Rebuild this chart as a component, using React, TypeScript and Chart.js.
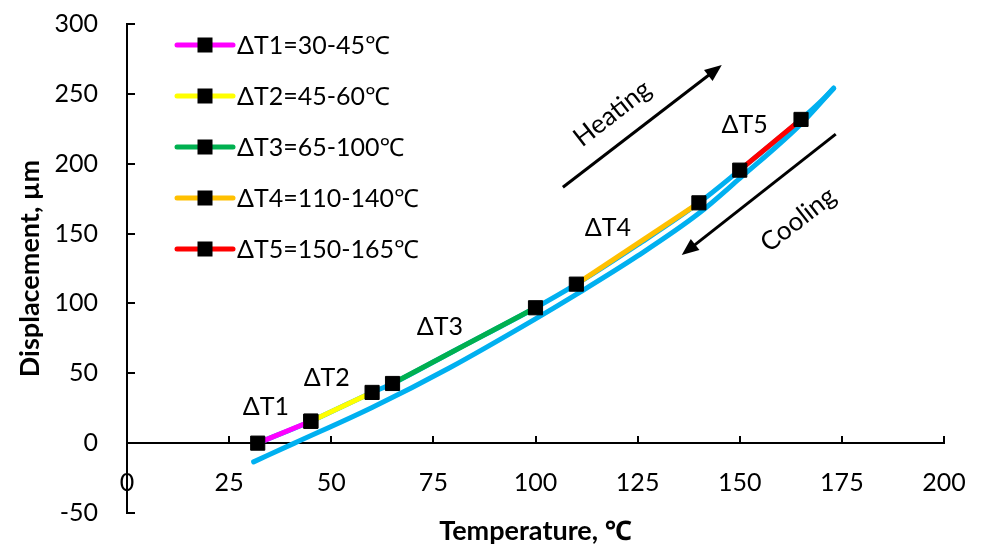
import React, { useEffect, useRef } from "react";
import { Chart, registerables } from "chart.js";

Chart.register(...registerables);

const FONT = "Lato, 'Noto Sans', sans-serif";

// Coloured ΔT segments on the heating curve
const segLabels = ["ΔT1=30-45℃", "ΔT2=45-60℃", "ΔT3=65-100℃", "ΔT4=110-140℃", "ΔT5=150-165℃"];
const segColors = ["#FF00FF", "#FFFF00", "#00B050", "#FFC000", "#FF0000"];
const segStartT = [32, 45, 65, 110, 150];
const segEndT = [45, 60, 100, 140, 165];
const segStartD = [0, 15.7, 42.7, 113.8, 195.4];
const segEndD = [15.7, 36.3, 96.9, 172, 231.7];

// Blue heating branch
const heatT = [32, 45, 60, 65, 80, 100, 110, 125, 140, 150, 165, 170, 173];
const heatD = [0, 15.7, 36.3, 42.7, 66, 96.9, 113.8, 142, 172, 195.4, 231.7, 245, 254];

// Blue cooling branch
const coolT = [31, 41, 60, 79, 100, 110, 125, 140, 150, 165, 173];
const coolD = [-13.4, 0, 25.5, 54, 89, 106.5, 134, 164.5, 189.5, 228.5, 254];

// Axes
const xMin = 0, xMax = 200, xStep = 25;
const yMin = -50, yMax = 300, yStep = 50;
const xTitle = "Temperature, ℃";
const yTitle = "Displacement, µm";

// Annotations
const annoLabels = ["ΔT1", "ΔT2", "ΔT3", "ΔT4", "ΔT5"];
const annoT = [34, 48.9, 76.6, 117.7, 151.2];
const annoD = [25.8, 46.5, 83, 153.9, 227.6];
const heatArrowT = [106.7, 145.6];
const heatArrowD = [183.2, 270.6];
const coolArrowT = [173.5, 135.8];
const coolArrowD = [221.2, 134.6];
const heatTextPos = [118.8, 236];
const coolTextPos = [164.3, 160];

const pts = (t: number[], d: number[]) => t.map((v, i) => ({ x: v, y: d[i] }));

const overlayPlugin = {
  id: "overlay",
  afterDatasetsDraw(chart: any) {
    const { ctx, chartArea, scales } = chart;
    const xs = scales.x;
    const ys = scales.y;
    const px = (v: number) => xs.getPixelForValue(v);
    const py = (v: number) => ys.getPixelForValue(v);
    ctx.save();
    ctx.fillStyle = "#000";
    ctx.font = `25px ${FONT}`;
    ctx.textAlign = "center";
    ctx.textBaseline = "middle";
    annoLabels.forEach((t, i) => ctx.fillText(t, px(annoT[i]), py(annoD[i])));

    const arrow = (t: number[], d: number[]) => {
      const x0 = px(t[0]), y0 = py(d[0]), x1 = px(t[1]), y1 = py(d[1]);
      const ang = Math.atan2(y1 - y0, x1 - x0);
      const hl = 17, hw = 7;
      const bx = x1 - hl * Math.cos(ang), by = y1 - hl * Math.sin(ang);
      ctx.strokeStyle = "#000";
      ctx.lineWidth = 3;
      ctx.beginPath();
      ctx.moveTo(x0, y0);
      ctx.lineTo(bx + 2 * Math.cos(ang), by + 2 * Math.sin(ang));
      ctx.stroke();
      ctx.beginPath();
      ctx.moveTo(x1, y1);
      ctx.lineTo(bx + hw * Math.sin(ang), by - hw * Math.cos(ang));
      ctx.lineTo(bx - hw * Math.sin(ang), by + hw * Math.cos(ang));
      ctx.closePath();
      ctx.fill();
    };
    arrow(heatArrowT, heatArrowD);
    arrow(coolArrowT, coolArrowD);

    const rotText = (txt: string, pos: number[], deg: number) => {
      ctx.save();
      ctx.translate(px(pos[0]), py(pos[1]));
      ctx.rotate((deg * Math.PI) / 180);
      ctx.fillText(txt, 0, 0);
      ctx.restore();
    };
    ctx.font = `26px ${FONT}`;
    rotText("Heating", heatTextPos, -38);
    rotText("Cooling", coolTextPos, -38);

    // legend
    ctx.font = `25px ${FONT}`;
    ctx.textAlign = "left";
    segLabels.forEach((lab, i) => {
      const y = chartArea.top + 21 + i * 51;
      const lx0 = chartArea.left + 50;
      const lx1 = chartArea.left + 106;
      ctx.strokeStyle = segColors[i];
      ctx.lineWidth = 5;
      ctx.lineCap = "round";
      ctx.beginPath();
      ctx.moveTo(lx0, y);
      ctx.lineTo(lx1, y);
      ctx.stroke();
      ctx.fillStyle = "#000";
      ctx.fillRect(lx0 + 28 - 7.5, y - 7.5, 15, 15);
      ctx.fillText(lab, chartArea.left + 110, y + 1);
    });
    ctx.restore();
  },
};

export default function App() {
  const ref = useRef<HTMLCanvasElement>(null);
  useEffect(() => {
    if (!ref.current) return;
    Chart.defaults.font.family = FONT;
    Chart.defaults.color = "#000";
    const segSets = segLabels.map((lab, i) => ({
      label: lab,
      data: pts([segStartT[i], segEndT[i]], [segStartD[i], segEndD[i]]),
      borderColor: segColors[i],
      backgroundColor: "#000",
      borderWidth: 5,
      pointStyle: "rect",
      pointRadius: 10,
      pointBorderWidth: 1,
      pointBorderColor: "#000",
      pointBackgroundColor: "#000",
      showLine: true,
    }));
    const blue = (lab: string, t: number[], d: number[]) => ({
      label: lab,
      data: pts(t, d),
      borderColor: "#00B0F0",
      backgroundColor: "#00B0F0",
      borderWidth: 5,
      pointRadius: 0,
      showLine: true,
      cubicInterpolationMode: "monotone",
      borderCapStyle: "round",
      borderJoinStyle: "round",
    });
    const chart = new Chart(ref.current, {
      type: "scatter",
      data: {
        datasets: [...segSets, blue("Heating", heatT, heatD), blue("Cooling", coolT, coolD)] as any,
      },
      plugins: [overlayPlugin],
      options: {
        animation: false,
        responsive: true,
        maintainAspectRatio: false,
        layout: { padding: { top: 24, right: 39, left: 0, bottom: 0 } },
        plugins: { legend: { display: false }, tooltip: { enabled: false } },
        scales: {
          x: {
            type: "linear",
            position: { y: 0 } as any,
            min: xMin,
            max: xMax,
            ticks: { stepSize: xStep, padding: 33, font: { size: 25, family: FONT }, color: "#000", maxRotation: 0 },
            grid: { drawOnChartArea: false, drawTicks: true, tickLength: -8, color: "#000", lineWidth: 2 },
            border: { display: true, color: "#000", width: 2 },
            afterFit: (s: any) => { s.height = 0; s.paddingLeft = 0; s.paddingRight = 0; s.paddingTop = 0; s.paddingBottom = 0; },
          },
          x2: {
            type: "linear",
            position: "bottom",
            ticks: { display: false },
            grid: { display: false, drawTicks: false },
            border: { display: false },
            title: { display: true, text: xTitle, font: { size: 27, weight: "bold", family: FONT }, color: "#000", padding: { top: 0, bottom: 4 } },
            afterFit: (s: any) => { s.height = 38; },
          },
          y: {
            type: "linear",
            position: "left",
            min: yMin,
            max: yMax,
            ticks: { stepSize: yStep, padding: 37, font: { size: 25, family: FONT }, color: "#000" },
            grid: { drawOnChartArea: false, drawTicks: true, tickLength: -8, color: "#000", lineWidth: 2 },
            border: { display: true, color: "#000", width: 2 },
            title: { display: true, text: yTitle, font: { size: 27, weight: "bold", family: FONT }, color: "#000", padding: { top: 14, bottom: 0 } },
            afterFit: (s: any) => { s.width = 127; s.paddingTop = 0; s.paddingBottom = 0; },
          },
        },
      } as any,
    });
    return () => chart.destroy();
  }, []);
  return (
    <div style={{ position: "fixed", left: 0, top: 0, width: 983, height: 551, background: "#fff" }}>
      <canvas ref={ref} />
    </div>
  );
}
